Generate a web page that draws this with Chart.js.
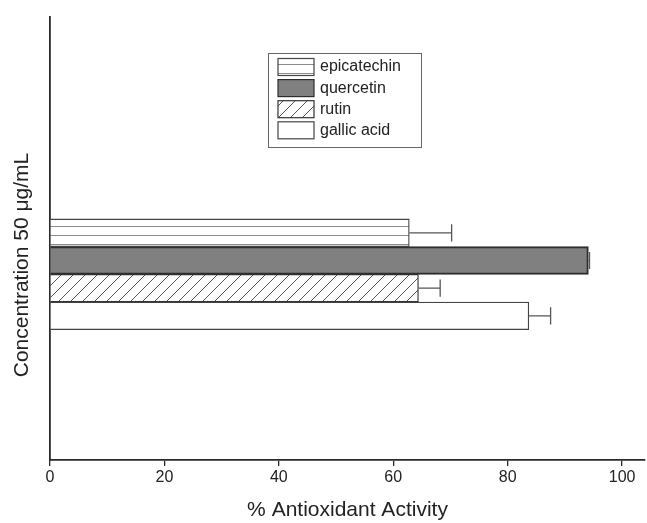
<!DOCTYPE html>
<html>
<head>
<meta charset="utf-8">
<script src="https://cdn.jsdelivr.net/npm/chart.js@4"></script>
<style>
  html, body { margin: 0; padding: 0; background: #fff; }
  #wrap { width: 647px; height: 523px; }
</style>
</head>
<body>
<div id="wrap"><canvas id="chart"></canvas></div>
<script>
const compounds = ['epicatechin', 'quercetin', 'rutin', 'gallic acid'];
const activity = [62.8, 94.1, 64.4, 83.7];
const errors = [7.4, 0.2, 3.8, 3.8];
const xTicks = [0, 20, 40, 60, 80, 100];
const groupY = 0.411; // single concentration group on the hidden y axis

const FONT = "'Liberation Sans', Arial, sans-serif";
const AXIS_COLOR = '#2a2a2a';

function stripes() {
  const c = document.createElement('canvas');
  c.width = 12; c.height = 9;
  const g = c.getContext('2d');
  g.fillStyle = '#fff'; g.fillRect(0, 0, 12, 9);
  g.strokeStyle = '#8c8c8c'; g.lineWidth = 1;
  g.beginPath(); g.moveTo(0, 1.5); g.lineTo(12, 1.5); g.stroke();
  return g.createPattern(c, 'repeat');
}

function hatch() {
  const c = document.createElement('canvas');
  c.width = 12; c.height = 12;
  const g = c.getContext('2d');
  g.fillStyle = '#fff'; g.fillRect(0, 0, 12, 12);
  g.strokeStyle = '#555'; g.lineWidth = 1;
  g.beginPath();
  g.moveTo(-1, 13); g.lineTo(13, -1);
  g.moveTo(-1, 1); g.lineTo(1, -1);
  g.moveTo(11, 13); g.lineTo(13, 11);
  g.stroke();
  return g.createPattern(c, 'repeat');
}

const fills = [stripes(), '#808080', hatch(), '#ffffff'];
const borders = ['#444', '#2e2e2e', '#333', '#444'];

const errorBars = {
  id: 'errorBars',
  afterDatasetsDraw(chart) {
    const { ctx, scales: { x } } = chart;
    ctx.save();
    ctx.strokeStyle = '#555';
    ctx.lineWidth = 1.3;
    chart.data.datasets.forEach((ds, i) => {
      const bar = chart.getDatasetMeta(i).data[0];
      const x0 = x.getPixelForValue(activity[i]);
      const x1 = x.getPixelForValue(activity[i] + errors[i]);
      const cap = bar.height * 0.31;
      ctx.beginPath();
      ctx.moveTo(x0, bar.y); ctx.lineTo(x1, bar.y);
      ctx.moveTo(x1, bar.y - cap); ctx.lineTo(x1, bar.y + cap);
      ctx.stroke();
    });
    ctx.restore();
  }
};

const boxLegend = {
  id: 'boxLegend',
  afterDraw(chart) {
    const { ctx } = chart;
    const left = 268, top = 53, w = 153, h = 94;
    ctx.save();
    ctx.strokeStyle = '#666';
    ctx.lineWidth = 1;
    ctx.strokeRect(left + 0.5, top + 0.5, w, h);
    ctx.font = '16px ' + FONT;
    ctx.textBaseline = 'middle';
    chart.data.datasets.forEach((ds, i) => {
      const sy = 58.5 + i * 21.1;
      ctx.fillStyle = ds.backgroundColor;
      ctx.fillRect(278, sy, 36, 17);
      ctx.strokeStyle = ds.borderColor;
      ctx.lineWidth = 1.2;
      ctx.strokeRect(278, sy, 36, 17);
      ctx.fillStyle = '#222';
      ctx.fillText(ds.label, 320, sy + 8.5);
    });
    ctx.restore();
  }
};

const yTitle = {
  id: 'yTitle',
  afterDraw(chart) {
    const { ctx } = chart;
    ctx.save();
    ctx.translate(22, 265);
    ctx.rotate(-Math.PI / 2);
    ctx.font = '21px ' + FONT;
    ctx.fillStyle = '#222';
    ctx.textAlign = 'center';
    ctx.textBaseline = 'middle';
    ctx.fillText('Concentration 50 \u03bcg/mL', 0, 0);
    ctx.restore();
  }
};

new Chart(document.getElementById('chart'), {
  type: 'bar',
  data: {
    datasets: compounds.map((name, i) => ({
      label: name,
      data: [{ x: activity[i], y: groupY }],
      backgroundColor: fills[i],
      borderColor: borders[i],
      borderWidth: i === 1 ? 2 : 1.3,
      borderSkipped: 'start',
      barThickness: 27.7,
    })),
  },
  options: {
    indexAxis: 'y',
    responsive: true,
    maintainAspectRatio: false,
    animation: false,
    layout: { padding: { top: 17, right: 2, left: 0, bottom: 0 } },
    plugins: {
      legend: { display: false },
      tooltip: { enabled: false },
    },
    scales: {
      x: {
        type: 'linear',
        min: 0,
        max: 104,
        afterBuildTicks: (scale) => {
          scale.ticks = xTicks.map((v) => ({ value: v }));
        },
        afterFit: (scale) => { scale.height = 63; },
        grid: { display: true, drawOnChartArea: false, drawTicks: true, tickLength: 6, color: AXIS_COLOR, lineWidth: 1.3 },
        border: { display: true, color: AXIS_COLOR, width: 1.8 },
        ticks: { color: '#222', font: { family: FONT, size: 16 }, padding: 2, maxRotation: 0 },
        title: {
          display: true,
          text: '% Antioxidant Activity',
          color: '#222',
          font: { family: FONT, size: 21 },
          padding: { top: 0, bottom: 0 },
        },
      },
      y: {
        type: 'linear',
        min: 0,
        max: 1,
        afterFit: (scale) => { scale.width = 50; },
        grid: { display: false },
        border: { display: true, color: AXIS_COLOR, width: 1.8 },
        ticks: { display: false },
      },
    },
  },
  plugins: [errorBars, boxLegend, yTitle],
});
</script>
</body>
</html>
